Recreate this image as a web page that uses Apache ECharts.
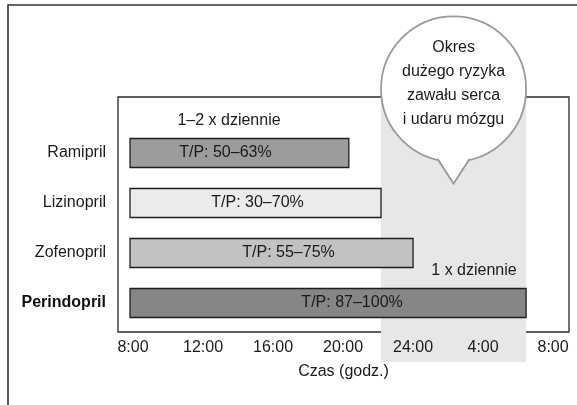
<!DOCTYPE html>
<html>
<head>
<meta charset="utf-8">
<script src="https://cdn.jsdelivr.net/npm/echarts@6/dist/echarts.min.js"></script>
<style>
  html, body { margin: 0; padding: 0; background: #fff; }
  #chart { width: 577px; height: 405px; }
</style>
</head>
<body>
<div id="chart"></div>
<script>
// Dosing coverage of ACE inhibitors over 24 h (hours counted from 8:00)
const drugs = ['Ramipril', 'Lizinopril', 'Zofenopril', 'Perindopril'];
const startHours = [7.83, 7.83, 7.83, 7.83];
const endHours = [20.33, 22.17, 24.0, 30.46];
const troughPeak = ['T/P: 50–63%', 'T/P: 30–70%', 'T/P: 55–75%', 'T/P: 87–100%'];
const riskWindow = [22.17, 30.46];
const hourTicks = [8, 12, 16, 20, 24, 28, 32];
const hourLabels = ['8:00', '12:00', '16:00', '20:00', '24:00', '4:00', '8:00'];
const bubbleLines = ['Okres', 'dużego ryzyka', 'zawału serca', 'i udaru mózgu'];

const FONT = "'Liberation Sans', Arial, sans-serif";
const FS = 16;
const barColors = ['#9b9c9e', '#ebebec', '#c1c2c4', '#858688'];
const labelShift = [-14, 2, 17, 24];

const chart = echarts.init(document.getElementById('chart'), null, { renderer: 'canvas' });

chart.setOption({
  animation: false,
  textStyle: { fontFamily: FONT },
  grid: {
    left: 118,
    right: 8,
    top: 97,
    bottom: 73,
    show: true,
    borderColor: '#2a2a2a',
    borderWidth: 1.3,
    backgroundColor: 'transparent'
  },
  xAxis: {
    type: 'value',
    z: 6,
    min: 7.143,
    max: 32.91,
    name: 'Czas (godz.)',
    nameLocation: 'middle',
    nameGap: 32,
    nameTextStyle: { fontSize: FS, color: '#1a1a1a', fontFamily: FONT },
    axisLine: { show: false },
    axisTick: { show: false },
    splitLine: { show: false },
    axisLabel: {
      customValues: hourTicks,
      margin: 8,
      fontSize: FS,
      color: '#1a1a1a',
      fontFamily: FONT,
      formatter: function (v) {
        return hourLabels[hourTicks.indexOf(Math.round(v))];
      }
    }
  },
  yAxis: {
    type: 'value',
    inverse: true,
    min: -1.12,
    max: 3.58,
    axisLine: { show: false },
    axisTick: { show: false },
    splitLine: { show: false },
    axisLabel: {
      customValues: [0, 1, 2, 3],
      margin: 12,
      fontSize: FS,
      color: '#1a1a1a',
      fontFamily: FONT,
      formatter: function (v) {
        const name = drugs[Math.round(v)];
        return name === 'Perindopril' ? '{b|' + name + '}' : name;
      },
      rich: {
        b: { fontWeight: 'bold', fontSize: FS, color: '#111', fontFamily: FONT }
      }
    }
  },
  series: [
    {
      // high-risk night/morning window
      type: 'custom',
      z: 1,
      clip: false,
      silent: true,
      data: [[riskWindow[0], riskWindow[1], 0]],
      encode: { x: [0, 1], y: 2 },
      renderItem: function (params, api) {
        const a = api.coord([api.value(0), 0]);
        const b = api.coord([api.value(1), 0]);
        const cs = params.coordSys;
        return {
          type: 'rect',
          shape: { x: a[0], y: cs.y, width: b[0] - a[0], height: cs.height + 30 },
          style: { fill: '#e6e7e8' }
        };
      }
    },
    {
      type: 'custom',
      z: 3,
      clip: false,
      data: drugs.map((d, i) => [i, startHours[i], endHours[i]]),
      encode: { x: [1, 2], y: 0 },
      renderItem: function (params, api) {
        const row = api.value(0);
        const p0 = api.coord([api.value(1), row]);
        const p1 = api.coord([api.value(2), row]);
        const h = api.size([0, 0.58])[1];
        return {
          type: 'rect',
          shape: { x: p0[0], y: p0[1] - h / 2, width: p1[0] - p0[0], height: h },
          style: { fill: barColors[row], stroke: '#1e1e1e', lineWidth: 1.3 },
          textContent: {
            style: {
              text: troughPeak[params.dataIndex],
              fontSize: FS,
              fontFamily: FONT,
              fill: '#1a1a1a'
            }
          },
          textConfig: { position: 'inside', offset: [labelShift[row], 0] }
        };
      }
    }
  ]
});

// annotations: bubble over the risk window and dosing notes
const x0 = chart.convertToPixel({ xAxisIndex: 0 }, riskWindow[0]);
const x1 = chart.convertToPixel({ xAxisIndex: 0 }, riskWindow[1]);
const cx = (x0 + x1) / 2;
const r = (x1 - x0) / 2;
const cy = 89;

chart.setOption({
  graphic: [
    {
      type: 'polyline',
      z: 5,
      shape: { points: [[8, 405], [8, 5], [577, 5]] },
      style: { stroke: '#333', lineWidth: 1.6, fill: null }
    },
    {
      type: 'circle',
      z: 10,
      shape: { cx: cx, cy: cy, r: r },
      style: { fill: '#fff', stroke: '#9a9a9a', lineWidth: 1.8 }
    },
    {
      type: 'polygon',
      z: 11,
      shape: { points: [[cx - 17, cy + r - 6], [cx, cy + r + 22], [cx + 17, cy + r - 6]] },
      style: { fill: '#fff' }
    },
    {
      type: 'polyline',
      z: 12,
      shape: { points: [[cx - 16, cy + r - 2.5], [cx, cy + r + 22], [cx + 16, cy + r - 2.5]] },
      style: { stroke: '#9a9a9a', lineWidth: 1.8, fill: null }
    },
    {
      type: 'text',
      z: 13,
      style: {
        x: cx,
        y: 36,
        text: bubbleLines.join('\n'),
        textAlign: 'center',
        textVerticalAlign: 'top',
        lineHeight: 24,
        fontSize: FS,
        fontFamily: FONT,
        fill: '#1a1a1a'
      }
    },
    {
      type: 'text',
      z: 13,
      style: {
        x: 229,
        y: 121,
        text: '1–2 x dziennie',
        textAlign: 'center',
        textVerticalAlign: 'middle',
        fontSize: FS,
        fontFamily: FONT,
        fill: '#1a1a1a'
      }
    },
    {
      type: 'text',
      z: 13,
      style: {
        x: 474,
        y: 271,
        text: '1 x dziennie',
        textAlign: 'center',
        textVerticalAlign: 'middle',
        fontSize: FS,
        fontFamily: FONT,
        fill: '#1a1a1a'
      }
    }
  ]
});
</script>
</body>
</html>
